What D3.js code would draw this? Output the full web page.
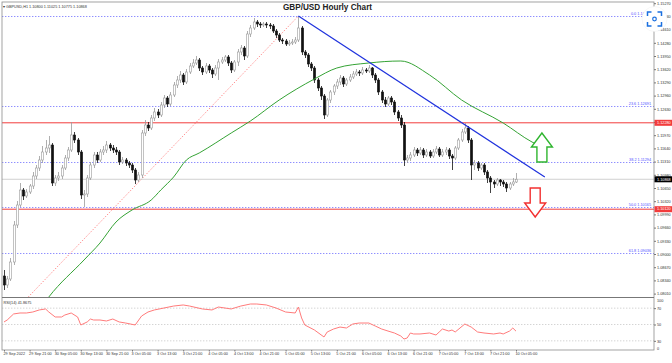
<!DOCTYPE html>
<html>
<head>
<meta charset="utf-8">
<script src="https://cdn.jsdelivr.net/npm/d3@7"></script>
<style>
  body { margin: 0; background: #fff; }
  svg { display: block; }
  text { font-family: "Liberation Sans", Arial, sans-serif; }
</style>
</head>
<body>
<svg id="chart" width="672" height="363"></svg>
<script>
// GBPUSD H1, 29 Sep 2022 13:00 -> 10 Oct 2022 05:00 (one entry per bar)
var timeLabels = ['29 Sep 2022', '29 Sep 21:00', '30 Sep 05:00', '30 Sep 13:00', '30 Sep 21:00',
  '3 Oct 05:00', '3 Oct 13:00', '3 Oct 21:00', '4 Oct 05:00', '4 Oct 13:00', '4 Oct 21:00',
  '5 Oct 05:00', '5 Oct 13:00', '5 Oct 21:00', '6 Oct 05:00', '6 Oct 13:00', '6 Oct 21:00',
  '7 Oct 05:00', '7 Oct 13:00', '7 Oct 21:00', '10 Oct 05:00'];
var timeTicks = [0, 8, 16, 24, 32, 40, 48, 56, 64, 72, 80, 88, 96, 104, 112, 120, 128, 136, 144, 152, 160];

var priceTicks = [1.15270, 1.14940, 1.14610, 1.14280, 1.13950, 1.13620, 1.13290, 1.12960, 1.12630,
  1.12300, 1.11970, 1.11640, 1.11310, 1.10980, 1.10650, 1.10320, 1.09990, 1.09660, 1.09330,
  1.09000, 1.08670, 1.08340, 1.08010];

var firstOpen = 1.08450;
var closes = [1.08225, 1.08375, 1.08800, 1.09725, 1.10225, 1.10600, 1.10450, 1.10550, 1.10700, 1.10950,
  1.11150, 1.11350, 1.11550, 1.11650, 1.11725, 1.10775, 1.10900, 1.10950, 1.11150, 1.11400,
  1.11600, 1.11975, 1.11850, 1.11550, 1.10475, 1.10500, 1.10900, 1.11225, 1.11475, 1.11350,
  1.11550, 1.11600, 1.11725, 1.11650, 1.11600, 1.11550, 1.11300, 1.11350, 1.11275, 1.11225,
  1.11100, 1.10850, 1.10975, 1.12025, 1.12225, 1.12150, 1.12400, 1.12550, 1.12475, 1.12725,
  1.12900, 1.12750, 1.12975, 1.13225, 1.13350, 1.13475, 1.13300, 1.13550, 1.13700, 1.13775,
  1.13850, 1.13650, 1.13550, 1.13700, 1.13600, 1.13500, 1.13650, 1.13800, 1.13850, 1.13925,
  1.13775, 1.13600, 1.13800, 1.14050, 1.14150, 1.13950, 1.14500, 1.14650, 1.14800, 1.14750,
  1.14725, 1.14750, 1.14725, 1.14700, 1.14575, 1.14475, 1.14350, 1.14325, 1.14250, 1.14275,
  1.14300, 1.14350, 1.14650, 1.14050, 1.13975, 1.13750, 1.13650, 1.13350, 1.13150, 1.12950,
  1.12475, 1.12850, 1.13050, 1.13200, 1.13300, 1.13400, 1.13250, 1.13350, 1.13425, 1.13500,
  1.13550, 1.13525, 1.13600, 1.13575, 1.13650, 1.13475, 1.13350, 1.13050, 1.12850, 1.12750,
  1.12900, 1.12800, 1.12550, 1.12400, 1.12225, 1.11350, 1.11400, 1.11475, 1.11600, 1.11525,
  1.11600, 1.11475, 1.11550, 1.11450, 1.11550, 1.11625, 1.11475, 1.11550, 1.11600, 1.11450,
  1.11400, 1.11650, 1.11850, 1.12050, 1.12150, 1.11850, 1.11225, 1.11275, 1.11150, 1.11225,
  1.11050, 1.10900, 1.10800, 1.10750, 1.10850, 1.10800, 1.10750, 1.10650, 1.10750, 1.10800,
  1.10868];
var highs = [1.08600, 1.08450, 1.08900, 1.09825, 1.10325, 1.10775, 1.10650, 1.10625, 1.10750, 1.11050,
  1.11225, 1.11450, 1.11700, 1.11850, 1.11950, 1.11775, 1.10975, 1.11050, 1.11225, 1.11475,
  1.11675, 1.12300, 1.12050, 1.11900, 1.11600, 1.10600, 1.10975, 1.11300, 1.11550, 1.11550,
  1.11625, 1.11700, 1.11825, 1.11775, 1.11725, 1.11675, 1.11600, 1.11425, 1.11400, 1.11325,
  1.11275, 1.11150, 1.11050, 1.12100, 1.12350, 1.12300, 1.12475, 1.12650, 1.12625, 1.12800,
  1.12975, 1.12950, 1.13050, 1.13300, 1.13450, 1.13575, 1.13525, 1.13625, 1.13775, 1.13875,
  1.13950, 1.13900, 1.13700, 1.13775, 1.13750, 1.13650, 1.13725, 1.13875, 1.13925, 1.13975,
  1.13975, 1.13825, 1.13850, 1.14125, 1.14225, 1.14200, 1.14575, 1.14725, 1.14900, 1.14850,
  1.14800, 1.14800, 1.14800, 1.14775, 1.14750, 1.14625, 1.14525, 1.14400, 1.14375, 1.14350,
  1.14375, 1.14425, 1.14950, 1.14700, 1.14100, 1.14025, 1.13800, 1.13700, 1.13400, 1.13200,
  1.13000, 1.12900, 1.13100, 1.13250, 1.13375, 1.13475, 1.13450, 1.13400, 1.13500, 1.13575,
  1.13625, 1.13600, 1.13675, 1.13650, 1.13725, 1.13675, 1.13525, 1.13400, 1.13100, 1.12925,
  1.12950, 1.12950, 1.12850, 1.12600, 1.12475, 1.12300, 1.11475, 1.11550, 1.11675, 1.11650,
  1.11675, 1.11650, 1.11625, 1.11600, 1.11625, 1.11700, 1.11675, 1.11625, 1.11675, 1.11650,
  1.11500, 1.11700, 1.11900, 1.12125, 1.12275, 1.12200, 1.11900, 1.11350, 1.11325, 1.11275,
  1.11275, 1.11100, 1.10950, 1.10850, 1.10900, 1.10875, 1.10850, 1.10800, 1.10800, 1.10900,
  1.11025];
var lows = [1.08100, 1.08150, 1.08325, 1.08725, 1.09650, 1.10175, 1.10350, 1.10400, 1.10500, 1.10625,
  1.10875, 1.11075, 1.11275, 1.11475, 1.11525, 1.10700, 1.10700, 1.10825, 1.10875, 1.11100,
  1.11325, 1.11550, 1.11775, 1.11475, 1.10375, 1.10175, 1.10425, 1.10850, 1.11150, 1.11275,
  1.11300, 1.11475, 1.11525, 1.11575, 1.11525, 1.11475, 1.11225, 1.11250, 1.11200, 1.11150,
  1.11025, 1.10750, 1.10800, 1.10900, 1.11950, 1.12075, 1.12100, 1.12325, 1.12400, 1.12425,
  1.12650, 1.12675, 1.12700, 1.12925, 1.13150, 1.13275, 1.13225, 1.13250, 1.13500, 1.13650,
  1.13725, 1.13575, 1.13475, 1.13500, 1.13525, 1.13400, 1.13450, 1.13350, 1.13750, 1.13800,
  1.13700, 1.13525, 1.13550, 1.13700, 1.13975, 1.13850, 1.13900, 1.14425, 1.14600, 1.14675,
  1.14650, 1.14675, 1.14650, 1.14625, 1.14525, 1.14400, 1.14300, 1.14250, 1.14200, 1.14200,
  1.14225, 1.14250, 1.14300, 1.13975, 1.13900, 1.13675, 1.13575, 1.13275, 1.13075, 1.12850,
  1.12375, 1.12425, 1.12775, 1.12975, 1.13125, 1.13225, 1.13175, 1.13200, 1.13300, 1.13375,
  1.13450, 1.13450, 1.13475, 1.13525, 1.13525, 1.13400, 1.13275, 1.12975, 1.12775, 1.12675,
  1.12700, 1.12725, 1.12475, 1.12325, 1.12150, 1.11200, 1.11275, 1.11325, 1.11425, 1.11450,
  1.11475, 1.11400, 1.11425, 1.11400, 1.11400, 1.11500, 1.11425, 1.11425, 1.11475, 1.11375,
  1.11100, 1.11350, 1.11600, 1.11800, 1.12000, 1.11775, 1.10850, 1.11100, 1.11075, 1.11100,
  1.10975, 1.10775, 1.10525, 1.10650, 1.10700, 1.10700, 1.10675, 1.10550, 1.10600, 1.10700,
  1.10775];

// green moving average (shifted forward), read at these bars
var maBars = [11, 14, 25, 30, 35, 40, 46, 49, 53, 57, 61, 71, 77, 86, 97, 104, 114, 124, 133, 143, 156, 165, 169];
var maValues = [1.07600, 1.07925, 1.08850, 1.09275, 1.09800, 1.10100, 1.10350, 1.10600, 1.10925, 1.11350,
  1.11525, 1.12025, 1.12325, 1.12850, 1.13375, 1.13650, 1.13775, 1.13825, 1.13475, 1.12850,
  1.12275, 1.11800, 1.11650];

// RSI(14)
var rsiBars = [0, 1, 3, 5, 7, 9, 11, 13, 14, 16, 18, 19, 21, 23, 24, 26, 27, 28, 30, 32, 34, 36, 38, 41,
  43, 45, 47, 50, 53, 56, 58, 62, 65, 67, 71, 74, 77, 79, 82, 85, 88, 91, 92, 93, 94, 97, 100, 101,
  103, 105, 107, 109, 111, 114, 116, 118, 120, 122, 124, 125, 126, 127, 128, 130, 133, 135, 136,
  137, 139, 140, 141, 144, 146, 148, 150, 153, 155, 156, 158, 159, 160];
var rsiValues = [53.1, 55.5, 62.9, 64.1, 64.1, 65.3, 67.8, 69.0, 65.3, 59.2, 59.2, 61.6, 64.1, 59.2,
  49.4, 53.1, 56.7, 55.5, 55.5, 54.3, 56.7, 53.1, 51.8, 49.4, 60.4, 65.3, 67.8, 70.2, 72.6, 73.9,
  72.6, 69.0, 67.8, 71.4, 69.0, 72.6, 75.1, 75.1, 73.9, 70.2, 65.3, 64.1, 71.4, 58.0, 49.4, 43.3,
  34.7, 40.8, 44.5, 46.9, 45.7, 50.6, 51.8, 51.8, 48.2, 44.5, 42.0, 39.6, 35.9, 32.2, 33.5, 39.6,
  38.4, 38.4, 39.6, 37.1, 40.8, 44.5, 42.0, 43.3, 40.8, 50.6, 46.9, 40.8, 39.6, 38.4, 39.6, 38.4,
  42.0, 45.7, 41.8675];
var rsiLevels = [70, 50, 30];

var resistance = 1.12280;
var support = 1.10120;
var trendLine = [{bar: 92, price: 1.14950}, {bar: 169, price: 1.10925}];
var fibLow = {bar: -23, price: 1.05380};
var fibHigh = {bar: 92, price: 1.14950};
var fibRatios = [0, 23.6, 38.2, 50.0, 61.8];
var arrows = [{bar: 168.1, price: 1.12025, dir: 'up'}, {bar: 166, price: 1.09925, dir: 'down'}];

var box = {left: 2, right: 654, top: 2, bottom: 297, rsiBottom: 350};

var svg = d3.select('#chart');
var x = d3.scaleLinear().domain([0, 160]).range([4, 516]);
var y = d3.scaleLinear().domain([1.07925, 1.15275]).range([297, 3]);
var yRsi = d3.scaleLinear().domain([20, 80]).range([349, 300]);
var fmt = d3.format('.5f');

svg.append('clipPath').attr('id', 'clipMain').append('rect')
  .attr('x', box.left).attr('y', box.top)
  .attr('width', box.right - box.left).attr('height', box.bottom - box.top);

var main = svg.append('g').attr('clip-path', 'url(#clipMain)');

// fibonacci levels
var fibRange = fibHigh.price - fibLow.price;
var fibs = fibRatios.map(function (r) {
  return {r: r, price: fibHigh.price - fibRange * r / 100};
});
main.selectAll('.fib').data(fibs).enter().append('line')
  .attr('x1', box.left).attr('x2', box.right)
  .attr('y1', function (d) { return Math.round(y(d.price)) + 0.5; })
  .attr('y2', function (d) { return Math.round(y(d.price)) + 0.5; })
  .attr('stroke', '#7272ff').attr('stroke-width', 0.8).attr('stroke-dasharray', '1.4,1.6');
main.selectAll('.fibText').data(fibs).enter().append('text')
  .attr('x', 651).attr('y', function (d) { return y(d.price) - 1; })
  .attr('text-anchor', 'end').attr('font-size', 3.8).attr('fill', '#4f4fff')
  .text(function (d) { return d.r.toFixed(1) + ' ' + fmt(d.price); });

main.append('line')
  .attr('x1', x(fibLow.bar)).attr('y1', y(fibLow.price))
  .attr('x2', x(fibHigh.bar)).attr('y2', y(fibHigh.price))
  .attr('stroke', '#ff7070').attr('stroke-width', 0.8).attr('stroke-dasharray', '1.4,1.6');

// horizontal levels
var last = closes[closes.length - 1];
main.append('line').attr('x1', box.left).attr('x2', box.right)
  .attr('y1', y(last)).attr('y2', y(last)).attr('stroke', '#c4c4c4').attr('stroke-width', 0.8);
[resistance, support].forEach(function (p) {
  main.append('line').attr('x1', box.left).attr('x2', box.right)
    .attr('y1', y(p)).attr('y2', y(p)).attr('stroke', '#f23c3c').attr('stroke-width', 1);
});

// candles
var candles = closes.map(function (c, i) {
  return {i: i, o: i ? closes[i - 1] : firstOpen, h: highs[i], l: lows[i], c: c};
});
var cg = main.selectAll('.candle').data(candles).enter().append('g');
cg.append('line')
  .attr('x1', function (d) { return Math.round(x(d.i)) + 0.5; })
  .attr('x2', function (d) { return Math.round(x(d.i)) + 0.5; })
  .attr('y1', function (d) { return y(d.h); })
  .attr('y2', function (d) { return y(d.l); })
  .attr('stroke', function (d) { return d.c >= d.o ? '#9a9a9a' : '#111'; })
  .attr('stroke-width', 0.8);
cg.append('rect')
  .attr('x', function (d) { return Math.round(x(d.i)) - 0.6; })
  .attr('width', 2.2)
  .attr('y', function (d) { return y(Math.max(d.o, d.c)); })
  .attr('height', function (d) { return Math.max(0.6, Math.abs(y(d.o) - y(d.c))); })
  .attr('fill', function (d) { return d.c >= d.o ? '#fff' : '#111'; })
  .attr('stroke', function (d) { return d.c >= d.o ? '#9a9a9a' : '#111'; })
  .attr('stroke-width', 0.6);

// moving average
var maPts = maBars.map(function (b, i) { return [b, maValues[i]]; });
main.append('path').datum(maPts)
  .attr('d', d3.line().x(function (d) { return x(d[0]); }).y(function (d) { return y(d[1]); })
    .curve(d3.curveMonotoneX))
  .attr('fill', 'none').attr('stroke', '#35a335').attr('stroke-width', 1);

// trend line
main.append('line')
  .attr('x1', x(trendLine[0].bar)).attr('y1', y(trendLine[0].price))
  .attr('x2', x(trendLine[1].bar)).attr('y2', y(trendLine[1].price))
  .attr('stroke', '#1f32dd').attr('stroke-width', 1.2);

// arrows
arrows.forEach(function (a) {
  var cx = x(a.bar), ty = y(a.price), s = a.dir === 'up' ? 1 : -1;
  var pts = [[0, 0], [10.5, 14], [5, 14], [5, 29], [-5, 29], [-5, 14], [-10.5, 14]];
  main.append('path')
    .attr('d', 'M' + pts.map(function (p) { return (cx + p[0]) + ',' + (ty + s * p[1]); }).join('L') + 'Z')
    .attr('fill', '#fff')
    .attr('stroke', a.dir === 'up' ? '#2fb52f' : '#f23030')
    .attr('stroke-width', 1.4).attr('stroke-linejoin', 'miter');
});

// RSI panel
svg.selectAll('.rsiLevel').data(rsiLevels).enter().append('line')
  .attr('x1', box.left).attr('x2', box.right)
  .attr('y1', function (d) { return yRsi(d); }).attr('y2', function (d) { return yRsi(d); })
  .attr('stroke', '#c2c2c2').attr('stroke-width', 0.7).attr('stroke-dasharray', '1.4,1.6');
var rsiPts = rsiBars.map(function (b, i) { return [b, rsiValues[i]]; });
svg.append('path').datum(rsiPts)
  .attr('d', d3.line().x(function (d) { return x(d[0]); }).y(function (d) { return yRsi(d[1]); }))
  .attr('fill', 'none').attr('stroke', '#ff7b7b').attr('stroke-width', 1);
svg.append('text').attr('x', 3.5).attr('y', 304).attr('font-size', 3.8).attr('fill', '#333')
  .text('RSI(14) ' + rsiValues[rsiValues.length - 1].toFixed(4));

// frame
svg.append('rect').attr('x', box.left).attr('y', box.top)
  .attr('width', box.right - box.left).attr('height', box.rsiBottom - box.top)
  .attr('fill', 'none').attr('stroke', '#8c8c8c').attr('stroke-width', 0.8);
svg.append('line').attr('x1', box.left).attr('x2', box.right)
  .attr('y1', box.bottom + 0.5).attr('y2', box.bottom + 0.5)
  .attr('stroke', '#777').attr('stroke-width', 1.2);

// price axis
var yAxis = svg.append('g').attr('transform', 'translate(' + box.right + ',0)')
  .call(d3.axisRight(y).tickValues(priceTicks).tickFormat(fmt).tickSize(2).tickPadding(1));
yAxis.select('.domain').remove();
yAxis.selectAll('line').attr('stroke', '#777');
yAxis.selectAll('text').attr('font-size', 3.8).attr('fill', '#333');

// rsi axis
var rAxis = svg.append('g').attr('transform', 'translate(' + box.right + ',0)')
  .call(d3.axisRight(yRsi).tickValues(rsiLevels).tickSize(2).tickPadding(1));
rAxis.select('.domain').remove();
rAxis.selectAll('line').attr('stroke', '#777');
rAxis.selectAll('text').attr('font-size', 3.8).attr('fill', '#333');
[['100', 300.5], ['0', 349]].forEach(function (t) {
  svg.append('text').attr('x', box.right + 3).attr('y', t[1]).attr('dy', '0.32em')
    .attr('font-size', 3.8).attr('fill', '#333').text(t[0]);
});

// price tags
[[resistance, '#f23c3c'], [support, '#f23c3c'], [last, '#000']].forEach(function (t) {
  var g = svg.append('g').attr('transform', 'translate(' + box.right + ',' + y(t[0]) + ')');
  g.append('rect').attr('x', 0.5).attr('y', -3).attr('width', 18).attr('height', 6).attr('fill', t[1]);
  g.append('text').attr('x', 3).attr('dy', '0.34em').attr('font-size', 3.8).attr('fill', '#fff')
    .text(fmt(t[0]));
});

// time axis
var xAxis = svg.append('g').attr('transform', 'translate(0,' + box.rsiBottom + ')')
  .call(d3.axisBottom(x).tickValues(timeTicks)
    .tickFormat(function (d, i) { return timeLabels[i]; }).tickSize(1.5).tickPadding(1));
xAxis.select('.domain').remove();
xAxis.selectAll('line').attr('stroke', '#777');
xAxis.selectAll('text').attr('font-size', 3.8).attr('fill', '#333')
  .attr('text-anchor', 'start').attr('x', -1);

// header + title
var lc = candles[candles.length - 1];
svg.append('text').attr('x', 3).attr('y', 7.5).attr('font-size', 3.8).attr('fill', '#333')
  .text('\u25BE GBPUSD,H1  ' + [lc.o, lc.h, lc.l, lc.c].map(fmt).join(' '));
svg.append('text').attr('x', 327.5).attr('y', 9.5).attr('text-anchor', 'middle')
  .attr('font-size', 8.2).attr('font-weight', 'bold').attr('fill', '#222')
  .text('GBP/USD Hourly Chart');

// lens icon
var icon = svg.append('g').attr('transform', 'translate(654.5,19)');
icon.append('circle').attr('r', 12.5).attr('fill', '#fff').attr('stroke', '#eee').attr('stroke-width', 0.5);
icon.append('path')
  .attr('d', 'M-7,-3V-7H-3M3,-7H7V-3M7,3V7H3M-3,7H-7V3')
  .attr('fill', 'none').attr('stroke', '#1a6fe0').attr('stroke-width', 1.5);
icon.append('circle').attr('r', 1.8).attr('fill', 'none').attr('stroke', '#1a6fe0').attr('stroke-width', 1.2);
</script>
</body>
</html>
